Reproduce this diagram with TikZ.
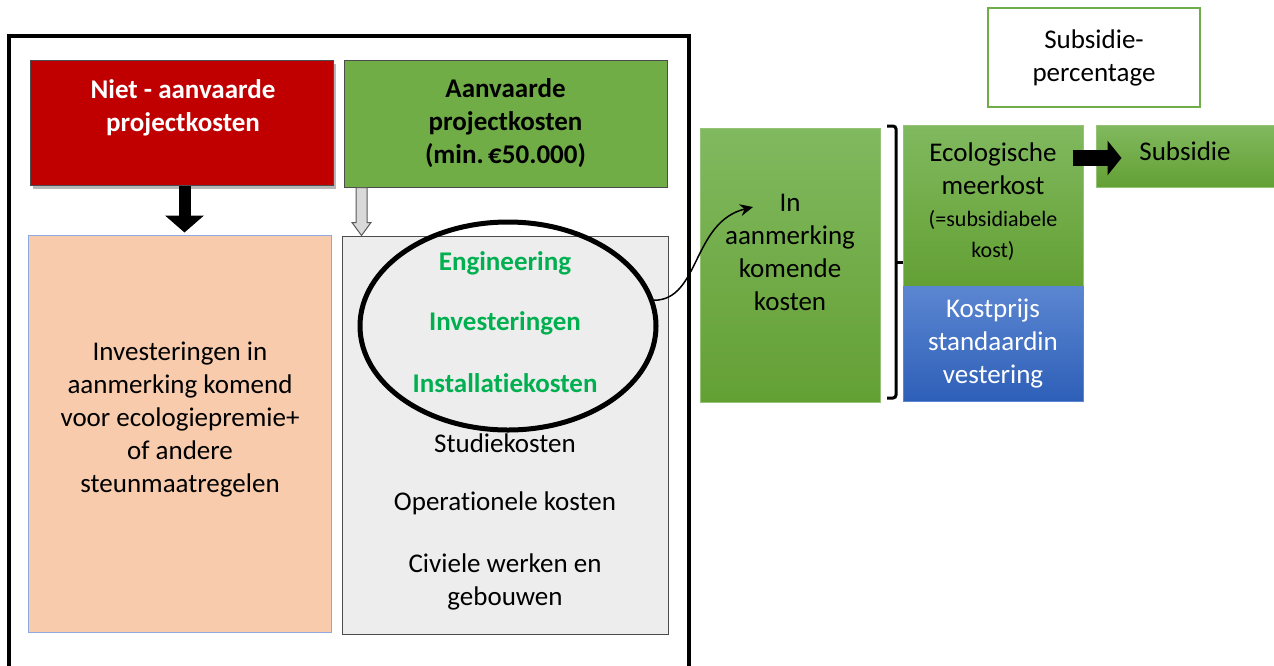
\documentclass[tikz,border=0pt]{standalone}
\usepackage{fontspec}
\setmainfont[Ligatures=NoCommon]{Carlito}
\usepackage{tikz}
\usetikzlibrary{arrows.meta, shapes.geometric, shadows, calc}

\definecolor{niet}{RGB}{192,0,0}
\definecolor{aanv}{RGB}{112,173,71}
\definecolor{perzik}{RGB}{248,203,173}
\definecolor{perzikrand}{RGB}{143,170,220}
\definecolor{lichtgrijs}{RGB}{237,237,237}
\definecolor{groentekst}{RGB}{0,176,80}
\definecolor{groenboven}{RGB}{129,185,95}
\definecolor{groenonder}{RGB}{99,160,52}
\definecolor{blauwboven}{RGB}{91,134,209}
\definecolor{blauwonder}{RGB}{46,95,184}

\begin{document}
\begin{tikzpicture}[x=1pt, y=-1pt,
			every node/.style={font=\fontsize{27}{33}\selectfont, align=center},
			vet/.style={font=\fontsize{27}{33}\selectfont\bfseries},
			klein/.style={font=\fontsize{22}{31}\selectfont},
			box/.style={inner sep=0pt, line width=1pt},
			verloop/.style={box, top color=groenboven, bottom color=groenonder, draw=groenboven!85!white},
			blok/.style={line width=12pt, -{Triangle[length=17pt, width=38pt]}}]
			
			\useasboundingbox (0,0) rectangle (1274,665);
			
			% kader
			\draw[line width=4pt] (9,670) -- (9,36) -- (689,36) -- (689,670);
			
			% linker kolom
			\node[box, fill=niet, draw=black!70, minimum width=303pt, minimum height=125pt,
				drop shadow={shadow xshift=3pt, shadow yshift=-4pt, fill=black!40, opacity=.7}] (niet) at (181.5,122.5) {};
			\node[vet, text=white] (niet-t) at (183,108) {Niet - aanvaarde\\projectkosten};
			\node[box, fill=perzik, draw=perzikrand, minimum width=303pt, minimum height=397pt] (perzik) at (179.5,433.5) {};
			\node (perzik-t) at (180,420) {Investeringen in\\aanmerking komend\\voor ecologiepremie+\\of andere\\steunmaatregelen};
			\draw[blok] ($(niet.south)+(3,0)$) -- ($(niet.south |- perzik.north)+(3,-2)$);
			
			% rechter kolom
			\node[box, vet, fill=aanv, draw=black!70, minimum width=323pt, minimum height=127pt] (aanv) at (505.5,123.5) {Aanvaarde\\projectkosten\\(min.\,€50.000)};
			\node[box, fill=lichtgrijs, draw=black!70, minimum width=326pt, minimum height=398pt] (grijs) at (505,435) {};
			\node[vet, text=groentekst] (eng) at (505,263) {Engineering};
			\node[vet, text=groentekst] (inv) at (505,323) {Investeringen};
			\node[vet, text=groentekst] (inst) at (505,383) {Installatiekosten};
			\node (stud) at (505,443) {Studiekosten};
			\node (oper) at (505,503) {Operationele kosten};
			\node (civ) at (505,582) {Civiele werken en\\gebouwen};
			\node[draw, ellipse, line width=5pt, minimum width=296pt, minimum height=208pt] (ring) at (508,326) {};
			
			% holle pijl
			\coordinate (hs) at ($(aanv.south west)+(18,0)$);
			\coordinate (ht) at (hs |- grijs.north);
			\draw[fill=black!15, draw=black!65, line width=1pt]
				($(hs)+(-5.5,0)$) -- ($(ht)+(-5.5,-13)$) -- ($(ht)+(-9.5,-13)$) -- (ht)
				-- ($(ht)+(9.5,-13)$) -- ($(ht)+(5.5,-13)$) -- ($(hs)+(5.5,0)$) -- cycle;
			
			% rechts
			\node[box, verloop, minimum width=180pt, minimum height=274pt] (aanm) at (790,265) {};
			\node (aanm-t) at (790,252) {In\\aanmerking\\komende\\kosten};
			\coordinate (doel) at (753,207);
			\draw[-{Stealth[length=13pt, width=12pt]}, line width=1.5pt] (ring.10) .. controls (700,300) and (692,222) .. (doel);
			
			\draw[line width=3pt, rounded corners=3pt] (887,126) -- (896,126) -- (896,398) -- (887,398);
			\draw[line width=3pt] (896,262) -- (913,262);
			
			\node[box, verloop, minimum width=180pt, minimum height=161pt] (eco) at (993,205.5) {};
			\node (eco-t) at (993,169) {Ecologische\\meerkost};
			\node[klein] (eco-s) at (993,235) {(=subsidiabele\\kost)};
			\node[box, text=white, top color=blauwboven, bottom color=blauwonder, draw=blauwboven,
				minimum width=180pt, minimum height=115pt] (blauw) at (993,343.5) {Kostprijs\\standaardin\\vestering};
			
			\node[box, verloop, minimum width=178pt, minimum height=62pt] (subs) at (1185,156) {};
			\node (subs-t) at (1185,151) {Subsidie};
			\node[box, draw=aanv, line width=2pt, fill=white, minimum width=212pt, minimum height=99pt] (pct) at (1094,57.5) {Subsidie-\\percentage};
			\draw[blok, line width=16pt, -{Triangle[length=14pt, width=34pt]}] ($(eco.east |- subs.west)+(-11,2)$) -- ($(subs.west)+(26,2)$);
		\end{tikzpicture}
\end{document}
